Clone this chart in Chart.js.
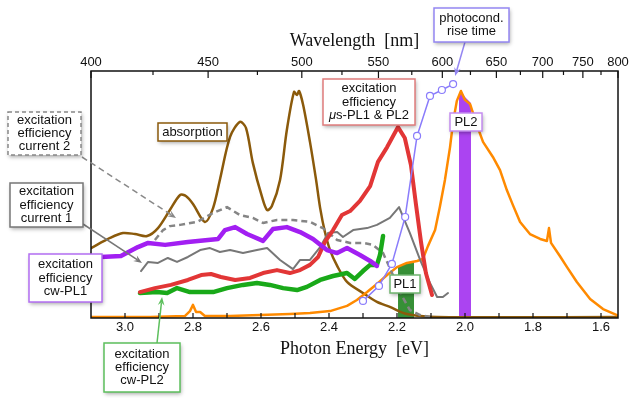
<!DOCTYPE html>
<html>
<head>
<meta charset="utf-8">
<script src="https://cdn.jsdelivr.net/npm/chart.js@4.4.1/dist/chart.umd.min.js"></script>
<style>
  html, body { margin: 0; padding: 0; background: #fff; }
  #chart { display: block; }
</style>
</head>
<body>
<canvas id="chart" width="637" height="398"></canvas>
<script>
// axis ticks (photon energy in eV, wavelength in nm)
const energyLabels = [3.0, 2.8, 2.6, 2.4, 2.2, 2.0, 1.8, 1.6];
const energyMinor = [2.9, 2.7, 2.5, 2.3, 2.1, 1.9, 1.7];
const wavelengthLabels = [400, 450, 500, 550, 600, 650, 700, 750, 800];
const wavelengthMinor = [425, 475, 525, 575, 625, 675, 725, 775];

// absorption
const absorptionE = [3.100, 3.044, 3.006, 2.971, 2.935, 2.903, 2.868, 2.838, 2.821, 2.800, 2.765, 2.741, 2.721, 2.691, 2.662, 2.644, 2.624, 2.597, 2.582, 2.568, 2.544, 2.524, 2.503, 2.494, 2.488, 2.476, 2.456, 2.438, 2.426, 2.412, 2.397, 2.376, 2.347, 2.300, 2.259, 2.221, 2.171, 2.082, 1.550];
const absorptionY = [28.3, 32.4, 34.4, 34.0, 33.2, 36.4, 43.7, 49.8, 49.4, 46.2, 38.9, 44.5, 55.9, 73.3, 79.4, 76.9, 62.8, 49.0, 43.7, 45.3, 55.9, 76.1, 91.5, 90.3, 91.9, 86.2, 71.3, 55.9, 44.5, 34.8, 27.5, 21.1, 14.6, 10.1, 6.5, 4.5, 1.6, 0.4, 0.4];

// excitation efficiency cw-PL1
const cwPL1E = [3.071, 3.012, 2.962, 2.932, 2.882, 2.815, 2.756, 2.726, 2.706, 2.676, 2.641, 2.594, 2.565, 2.524, 2.485, 2.447, 2.406, 2.376, 2.347, 2.309, 2.279, 2.259];
const cwPL1Y = [24.7, 25.1, 28.7, 30.4, 29.6, 30.8, 31.6, 32.0, 35.6, 36.8, 34.0, 31.2, 36.0, 36.8, 34.8, 32.0, 27.5, 26.3, 28.3, 25.5, 23.1, 21.1];

// excitation efficiency current 1
const current1E = [2.953, 2.932, 2.903, 2.874, 2.847, 2.815, 2.779, 2.750, 2.721, 2.691, 2.653, 2.612, 2.582, 2.544, 2.506, 2.485, 2.456, 2.426, 2.403, 2.376, 2.359, 2.329, 2.288, 2.259, 2.221, 2.194, 2.182, 2.162, 2.132, 2.103, 2.082, 2.065, 2.050];
const current1Y = [19.0, 22.7, 22.3, 24.3, 22.7, 24.7, 27.5, 28.3, 26.7, 27.5, 26.3, 27.5, 28.3, 23.5, 19.8, 23.5, 23.5, 28.7, 34.4, 34.8, 32.8, 35.6, 36.4, 37.7, 40.5, 44.9, 40.9, 34.4, 23.5, 14.2, 8.5, 8.5, 10.1];

// excitation efficiency current 2
const current2E = [2.912, 2.888, 2.868, 2.838, 2.788, 2.741, 2.700, 2.662, 2.624, 2.594, 2.553, 2.506, 2.456, 2.418, 2.376, 2.338, 2.300, 2.271, 2.241, 2.212, 2.182, 2.162, 2.132, 2.103];
const current2Y = [31.6, 35.6, 37.2, 37.7, 38.9, 42.5, 44.9, 41.7, 40.5, 38.5, 39.7, 39.7, 38.9, 36.4, 31.6, 30.4, 30.4, 29.6, 26.3, 17.4, 8.1, 3.2, 1.2, 0.4];

// excitation efficiency us-PL1 & PL2
const usPLE = [2.956, 2.912, 2.865, 2.815, 2.776, 2.747, 2.718, 2.676, 2.632, 2.594, 2.553, 2.515, 2.485, 2.456, 2.432, 2.412, 2.388, 2.362, 2.338, 2.309, 2.279, 2.256, 2.229, 2.197, 2.177, 2.159, 2.144, 2.129, 2.115, 2.097];
const usPLY = [10.5, 12.1, 13.4, 15.4, 17.4, 17.8, 16.6, 15.4, 16.2, 18.2, 19.4, 18.2, 19.4, 21.5, 24.7, 30.8, 35.6, 41.7, 43.3, 47.4, 53.4, 63.2, 69.2, 77.3, 72.9, 61.9, 45.7, 30.4, 18.2, 9.3];

// excitation efficiency cw-PL2
const cwPL2E = [2.956, 2.906, 2.876, 2.847, 2.809, 2.741, 2.700, 2.653, 2.612, 2.574, 2.535, 2.494, 2.465, 2.426, 2.388, 2.347, 2.324, 2.300, 2.279, 2.259, 2.250, 2.241];
const cwPL2Y = [10.1, 10.5, 10.1, 12.1, 10.5, 10.5, 12.1, 13.4, 14.2, 13.4, 12.1, 11.3, 12.6, 15.4, 17.0, 18.2, 15.8, 19.0, 21.5, 21.5, 25.5, 33.2];

// PL spectrum
const plE = [3.100, 2.926, 2.824, 2.809, 2.800, 2.791, 2.779, 2.765, 2.691, 2.603, 2.515, 2.456, 2.397, 2.347, 2.318, 2.288, 2.259, 2.229, 2.200, 2.171, 2.141, 2.124, 2.109, 2.088, 2.074, 2.059, 2.044, 2.035, 2.024, 2.012, 2.000, 1.985, 1.965, 1.947, 1.918, 1.897, 1.877, 1.859, 1.838, 1.809, 1.779, 1.759, 1.753, 1.747, 1.721, 1.700, 1.671, 1.632, 1.594, 1.553];
const plY = [0.4, 0.4, 0.8, 2.8, 5.3, 2.4, 2.4, 0.8, 0.8, 1.2, 1.6, 2.0, 2.8, 4.9, 7.3, 10.5, 13.8, 17.4, 20.6, 22.3, 23.1, 23.9, 29.1, 35.6, 44.9, 55.9, 69.2, 79.4, 87.9, 91.9, 88.3, 86.6, 78.1, 71.3, 65.2, 59.9, 51.8, 45.7, 38.9, 34.0, 32.0, 31.2, 36.4, 30.4, 25.1, 20.6, 14.6, 7.7, 3.6, 1.2];

// photoconductivity rise time
const riseE = [2.300, 2.253, 2.215, 2.176, 2.141, 2.103, 2.068, 2.035];
const riseY = [6.9, 13.0, 21.9, 40.9, 73.7, 89.9, 92.3, 94.7];

// detection windows PL1 / PL2
const pl1BandE = [2.197, 2.175, 2.150];
const pl1BandY = [21.0, 22.0, 22.7];
const pl2BandE = [2.018, 2.012, 2.000, 1.982];
const pl2BandY = [89.5, 91.9, 89.5, 87.0];

const pts = (xs, ys) => xs.map((x, i) => ({ x: x, y: ys[i] }));
const HC = 1240;

const sans = 'Liberation Sans, Arial, sans-serif';
const serif = 'Liberation Serif, Times New Roman, serif';

function line(data, color, width, extra) {
  return Object.assign({
    data: data,
    borderColor: color,
    borderWidth: width,
    pointRadius: 0,
    fill: false,
    tension: 0,
    borderJoinStyle: 'round',
    borderCapStyle: 'round'
  }, extra || {});
}

function band(data, color) {
  return {
    data: data,
    borderWidth: 0,
    backgroundColor: color,
    pointRadius: 0,
    fill: 'origin',
    order: 20
  };
}

// annotation boxes (pixel layout), arrows point at data coordinates
const notes = [
  { lines: [['photocond.'], ['rise time']], box: [434, 8, 75, 34], color: '#9486f2',
    arrow: { from: [465, 42], to: [2.029, 98.0] } },
  { lines: [['excitation'], ['efficiency'], ['μ', 's-PL1 & PL2']], box: [323, 79, 92, 46], color: '#e07c7c' },
  { lines: [['PL2']], box: [450, 113, 32, 18], color: '#c48cf0' },
  { lines: [['PL1']], box: [390, 275, 30, 18], color: '#6fb46f' },
  { lines: [['absorption']], box: [158, 123, 69, 18], color: '#8b5a0b' },
  { lines: [['excitation'], ['efficiency'], ['current 2']], box: [8, 112, 73, 43], color: '#888888', dash: [4, 3],
    arrow: { from: [82, 157], to: [2.85, 40.5], dash: [6, 4] } },
  { lines: [['excitation'], ['efficiency'], ['current 1']], box: [10, 183, 73, 44], color: '#777777',
    arrow: { from: [83, 224], to: [2.95, 22.3] } },
  { lines: [['excitation'], ['efficiency'], ['cw-PL1']], box: [29, 254, 73, 48], color: '#b36ef2' },
  { lines: [['excitation'], ['efficiency'], ['cw-PL2']], box: [104, 343, 76, 49], color: '#5cbf5c',
    arrow: { from: [157, 343], to: [2.891, 8.5] } }
];

function drawArrow(ctx, x1, y1, x2, y2, color, dash) {
  const a = Math.atan2(y2 - y1, x2 - x1);
  const head = 9;
  ctx.save();
  ctx.strokeStyle = color;
  ctx.fillStyle = color;
  ctx.lineWidth = 1.5;
  ctx.setLineDash(dash || []);
  ctx.beginPath();
  ctx.moveTo(x1, y1);
  ctx.lineTo(x2 - Math.cos(a) * head * 0.6, y2 - Math.sin(a) * head * 0.6);
  ctx.stroke();
  ctx.setLineDash([]);
  ctx.beginPath();
  ctx.moveTo(x2, y2);
  ctx.lineTo(x2 - head * Math.cos(a - 0.38), y2 - head * Math.sin(a - 0.38));
  ctx.lineTo(x2 - head * 0.6 * Math.cos(a), y2 - head * 0.6 * Math.sin(a));
  ctx.lineTo(x2 - head * Math.cos(a + 0.38), y2 - head * Math.sin(a + 0.38));
  ctx.closePath();
  ctx.fill();
  ctx.restore();
}

const framePlugin = {
  id: 'frame',
  afterDatasetsDraw(chart) {
    const ctx = chart.ctx;
    const area = chart.chartArea;
    ctx.save();
    ctx.strokeStyle = '#111';
    ctx.lineWidth = 1.5;
    ctx.strokeRect(area.left, area.top, area.right - area.left, area.bottom - area.top);
    ctx.lineWidth = 1.2;
    chart.scales.x.ticks.forEach(t => {
      const px = chart.scales.x.getPixelForValue(t.value);
      ctx.beginPath();
      ctx.moveTo(px, area.bottom);
      ctx.lineTo(px, area.bottom - 5);
      ctx.stroke();
    });
    chart.scales.x2.ticks.forEach(t => {
      const px = chart.scales.x2.getPixelForValue(t.value);
      ctx.beginPath();
      ctx.moveTo(px, area.top);
      ctx.lineTo(px, area.top + (t.label ? 7 : 4));
      ctx.stroke();
    });
    ctx.restore();
  }
};

const notesPlugin = {
  id: 'notes',
  afterDraw(chart) {
    const ctx = chart.ctx;
    const xs = chart.scales.x;
    const ys = chart.scales.y;
    notes.forEach(n => {
      if (n.arrow) {
        const tx = xs.getPixelForValue(n.arrow.to[0]);
        const ty = ys.getPixelForValue(n.arrow.to[1]);
        drawArrow(ctx, n.arrow.from[0], n.arrow.from[1], tx, ty, n.color, n.arrow.dash);
      }
    });
    notes.forEach(n => {
      const [bx, by, bw, bh] = n.box;
      ctx.save();
      ctx.shadowColor = 'rgba(0,0,0,0.35)';
      ctx.shadowBlur = 4;
      ctx.shadowOffsetX = 1;
      ctx.shadowOffsetY = 1.5;
      ctx.fillStyle = '#fff';
      ctx.fillRect(bx, by, bw, bh);
      ctx.restore();
      ctx.save();
      ctx.strokeStyle = n.color;
      ctx.lineWidth = 1.5;
      ctx.setLineDash(n.dash || []);
      ctx.strokeRect(bx, by, bw, bh);
      ctx.setLineDash([]);
      ctx.fillStyle = '#111';
      ctx.textBaseline = 'middle';
      const lh = 13.4;
      const cy = by + bh / 2 - (n.lines.length - 1) * lh / 2;
      n.lines.forEach((parts, i) => {
        const fonts = parts.map((p, j) => (parts.length > 1 && j === 0 ? 'italic ' : '') + '13px ' + sans);
        let total = 0;
        parts.forEach((p, j) => { ctx.font = fonts[j]; total += ctx.measureText(p).width; });
        let x = bx + bw / 2 - total / 2;
        parts.forEach((p, j) => {
          ctx.font = fonts[j];
          ctx.textAlign = 'left';
          ctx.fillText(p, x, cy + i * lh);
          x += ctx.measureText(p).width;
        });
      });
      ctx.restore();
    });
  }
};

Chart.defaults.color = '#111';

new Chart(document.getElementById('chart'), {
  type: 'line',
  data: {
    datasets: [
      band(pts(pl1BandE, pl1BandY), 'rgba(38,135,38,0.92)'),
      band(pts(pl2BandE, pl2BandY), 'rgba(164,52,240,0.92)'),
      line(pts(absorptionE, absorptionY), '#8b5a0b', 2.5, { tension: 0.3, order: 9 }),
      line(pts(plE, plY), '#ff8a00', 2.5, { order: 8 }),
      line(pts(current1E, current1Y), '#777777', 2, { order: 7 }),
      line(pts(current2E, current2Y), '#858585', 2.5, { borderDash: [6, 4], borderCapStyle: 'butt', order: 6 }),
      line(pts(cwPL2E, cwPL2Y), '#19a919', 4.5, { order: 5 }),
      line(pts(usPLE, usPLY), '#e23636', 4, { order: 4 }),
      line(pts(cwPL1E, cwPL1Y), '#a21ff2', 4.5, { order: 3 }),
      line(pts(riseE, riseY), '#8a7cfb', 1.5, {
        order: 1, pointRadius: 3.5, pointBackgroundColor: '#fff', pointBorderColor: '#8a7cfb', pointBorderWidth: 1.2
      })
    ]
  },
  options: {
    responsive: false,
    animation: false,
    devicePixelRatio: 1,
    layout: { padding: { left: 91, right: 19, top: 0, bottom: 0 } },
    plugins: { legend: { display: false }, tooltip: { enabled: false } },
    scales: {
      x: {
        type: 'linear',
        position: 'bottom',
        min: 1.55,
        max: 3.1,
        reverse: true,
        afterFit: s => { s.height = 80; },
        afterBuildTicks: s => {
          s.ticks = energyLabels.concat(energyMinor).map(v => ({ value: v }));
        },
        grid: { display: false, drawTicks: false },
        border: { display: false },
        ticks: {
          autoSkip: false,
          maxRotation: 0,
          padding: 2,
          font: { family: sans, size: 13 },
          callback: v => energyLabels.some(e => Math.abs(e - v) < 1e-6) ? v.toFixed(1) : ''
        },
        title: {
          display: true,
          text: 'Photon Energy  [eV]',
          font: { family: serif, size: 18 },
          padding: { top: 0, bottom: 38 }
        }
      },
      x2: {
        type: 'linear',
        position: 'top',
        min: 1.55,
        max: 3.1,
        reverse: true,
        afterFit: s => { s.height = 71; },
        afterBuildTicks: s => {
          s.ticks = wavelengthLabels.concat(wavelengthMinor).map(w => ({ value: HC / w }));
        },
        grid: { display: false, drawTicks: false },
        border: { display: false },
        ticks: {
          autoSkip: false,
          maxRotation: 0,
          padding: 1,
          font: { family: sans, size: 13 },
          callback: v => {
            const w = Math.round(HC / v);
            return wavelengthLabels.includes(w) ? String(w) : '';
          }
        },
        title: {
          display: true,
          text: 'Wavelength  [nm]',
          font: { family: serif, size: 18 },
          padding: { top: 30, bottom: 0 }
        }
      },
      y: { min: 0, max: 100, display: false }
    }
  },
  plugins: [framePlugin, notesPlugin]
});
</script>
</body>
</html>
